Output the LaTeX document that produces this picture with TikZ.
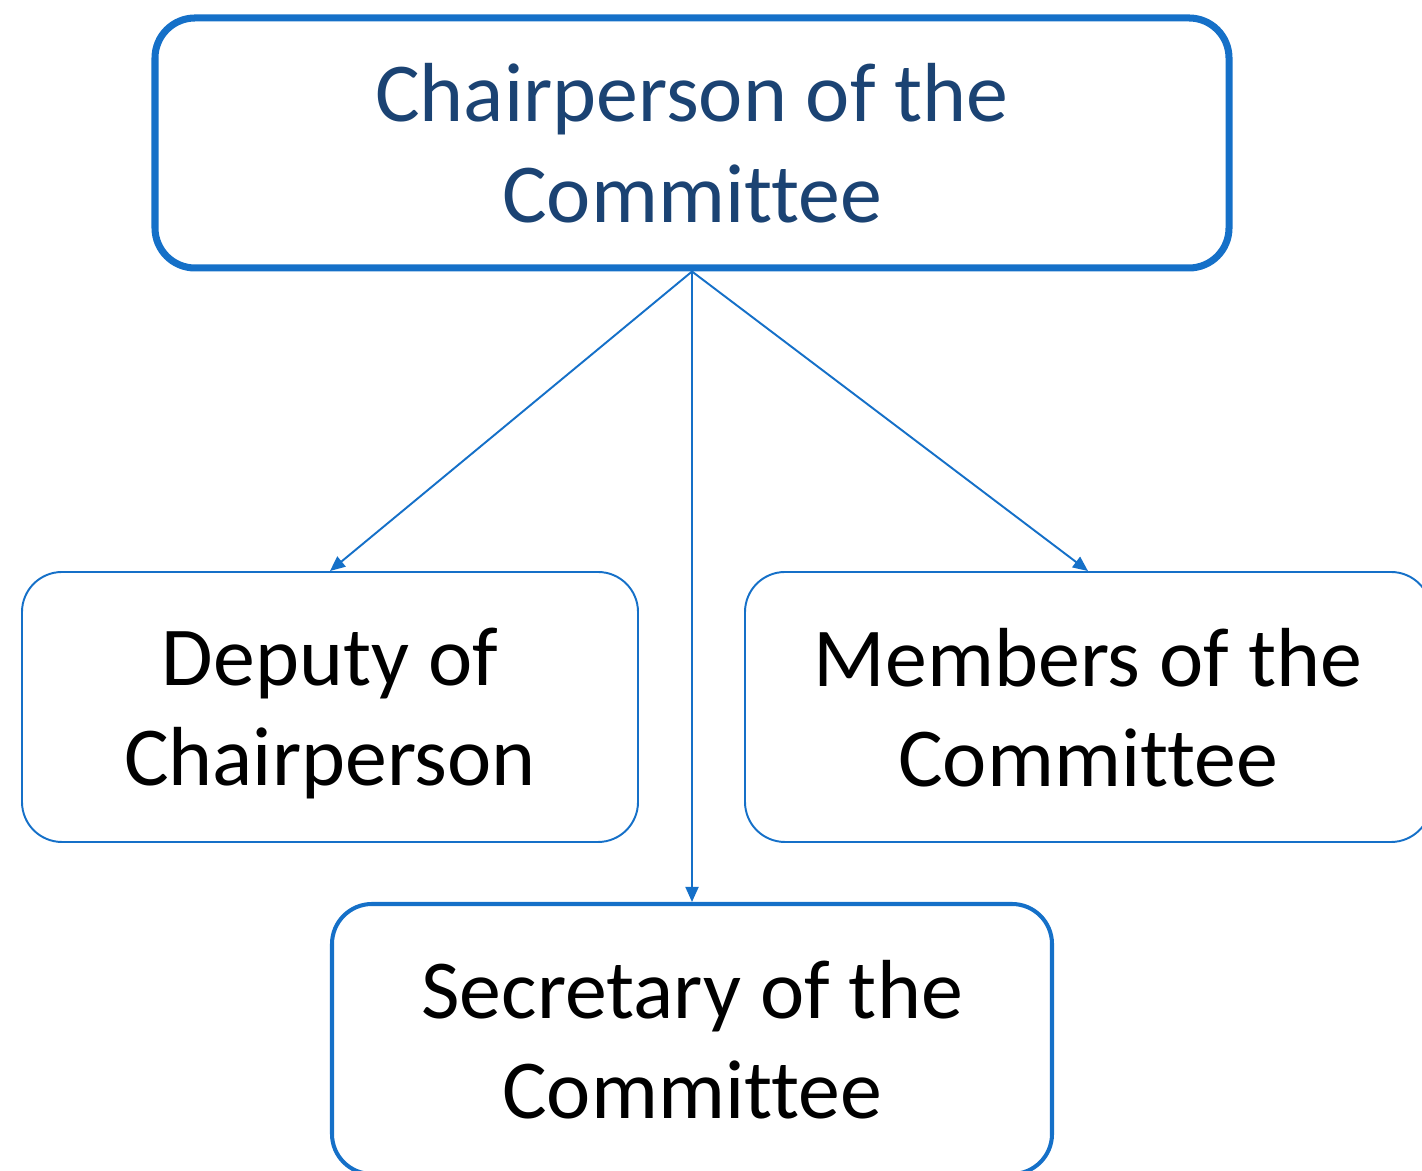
\documentclass[tikz,border=0pt]{standalone}
\usepackage{fontspec}
\setmainfont[Ligatures={NoCommon}]{Carlito}
\usetikzlibrary{arrows.meta}
\definecolor{boxblue}{RGB}{21,112,200}
\definecolor{titleblue}{RGB}{27,67,115}

\begin{document}
\begin{tikzpicture}[
        post/.style={draw=boxblue, rounded corners=0.8cm, align=center, inner sep=0pt,
            text depth=0pt, font=\fontsize{47.7}{57}\selectfont},
        link/.style={draw=boxblue, line width=1.1pt, -{Triangle[length=0.3cm, width=0.26cm]}}
    ]
            \clip (0,0) rectangle (28.44,23.42);
            \node[post, line width=4pt, text=titleblue, minimum width=21.48cm, minimum height=5cm]
                (chair) at (13.84,20.56) {Chairperson of the\\Committee};
            \node[post, line width=1.1pt, minimum width=12.32cm, minimum height=5.4cm]
                (deputy) at (6.60,9.28) {Deputy of\\Chairperson};
            \node[post, line width=1.1pt, minimum width=13.72cm, minimum height=5.4cm]
                (members) at (21.76,9.28) {Members of the\\Committee};
            \node[post, line width=2.3pt, minimum width=14.4cm, minimum height=5.4cm]
                (secretary) at (13.84,2.64) {Secretary of the\\Committee};
            \foreach \n in {deputy, secretary, members} {
                \draw[link] (chair.south) -- (\n.north);
            }
        \end{tikzpicture}
\end{document}
